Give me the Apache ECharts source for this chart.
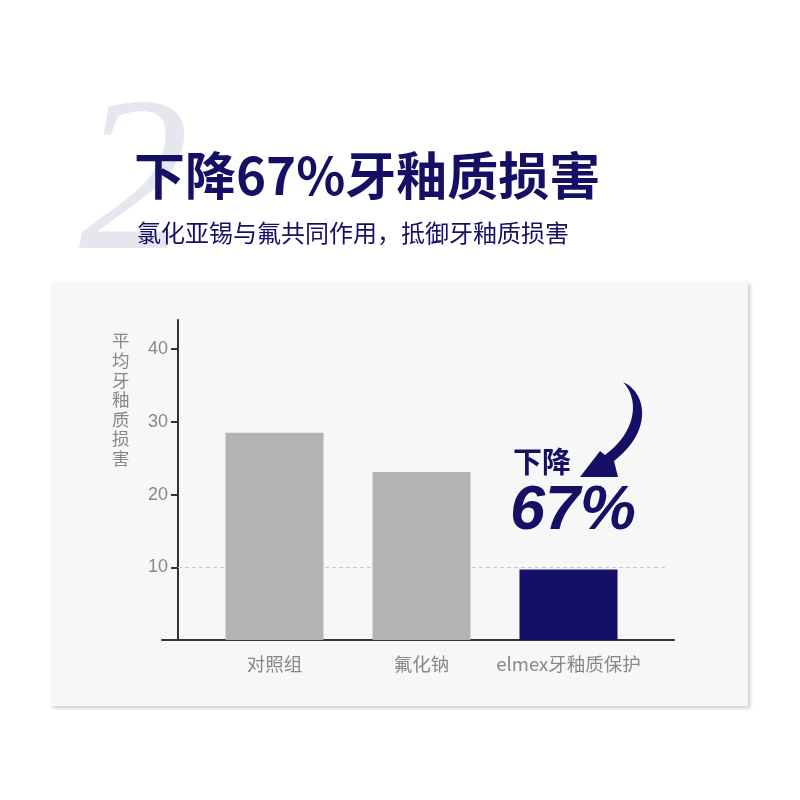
<!DOCTYPE html>
<html lang="zh">
<head>
<meta charset="UTF-8">
<title>下降67%牙釉质损害</title>
<script src="https://cdn.jsdelivr.net/npm/echarts@6/dist/echarts.min.js"></script>
<style>
  html, body { margin: 0; padding: 0; background: #fff; }
</style>
</head>
<body>
<div id="main" style="width: 800px;height:800px;"></div>
<script type="text/javascript">
// data
var categories = ['对照组', '氟化钠', 'elmex牙釉质保护'];
var damage = [28.5, 23.1, 9.7];
var yTicks = [10, 20, 30, 40];
var refLine = 10;

var navy = '#160f66';
var grey = '#b3b3b3';
var cjk = '"Noto Sans CJK SC", "Noto Sans", sans-serif';

var myChart = echarts.init(document.getElementById('main'));

var barData = damage.map(function (v, i) {
    return { value: v, itemStyle: { color: i === damage.length - 1 ? navy : grey } };
});

// curved arrow decoration: sample cubic curves into a polygon
function cubic(p0, p1, p2, p3, n) {
    var pts = [];
    for (var i = 0; i <= n; i++) {
        var t = i / n, u = 1 - t;
        pts.push([
            u*u*u*p0[0] + 3*u*u*t*p1[0] + 3*u*t*t*p2[0] + t*t*t*p3[0],
            u*u*u*p0[1] + 3*u*u*t*p1[1] + 3*u*t*t*p2[1] + t*t*t*p3[1]
        ]);
    }
    return pts;
}
var arrowPts = cubic([623, 382], [646, 392], [654, 430], [614, 461], 24)
    .concat([[618, 477], [580, 477], [600, 451]])
    .concat(cubic([605, 455], [636, 432], [640, 400], [623, 382], 24));

var gTop = 320, gBottom = 160;

var option = {
    animation: false,
    title: [
        { text: '2', left: 79, top: 80, padding: 0,
          textStyle: { fontSize: 220, fontFamily: '"Liberation Serif", serif', fontStyle: 'italic', fontWeight: 'normal', color: '#e6e6ef' } },
        { text: '下降67%牙釉质损害', left: 134, top: 150, padding: 0,
          textStyle: { fontSize: 51, fontFamily: cjk, fontWeight: 'bold', color: navy } },
        { text: '氯化亚锡与氟共同作用，抵御牙釉质损害', left: 137, top: 221, padding: 0,
          textStyle: { fontSize: 24, fontFamily: cjk, fontWeight: 'normal', color: navy } },
        { text: '平\n均\n牙\n釉\n质\n损\n害', left: 112, top: 331, padding: 0,
          textStyle: { fontSize: 17.5, lineHeight: 19.6, fontFamily: cjk, fontWeight: 'normal', color: '#888' } },
        { text: '下降', left: 513, top: 447, padding: 0,
          textStyle: { fontSize: 29, fontFamily: cjk, fontWeight: 'bold', color: navy } },
        { text: '67%', left: 510, top: 480, padding: 0,
          textStyle: { fontSize: 63, fontFamily: '"Liberation Sans", sans-serif', fontStyle: 'italic', fontWeight: 'bold', color: navy } }
    ],
    graphic: [
        { type: 'rect', z: -10, shape: { x: 51, y: 282, width: 697, height: 424 },
          style: { fill: '#f7f7f7', shadowBlur: 4, shadowColor: 'rgba(0,0,0,0.22)', shadowOffsetX: 2, shadowOffsetY: 2 } },
        { type: 'polygon', z: 10, shape: { points: arrowPts }, style: { fill: navy } }
    ],
    grid: [
        { left: 201, right: 158, top: gTop, bottom: gBottom },
        { left: 178, right: 132, top: gTop, bottom: gBottom },
        { left: 162, right: 126, top: gTop, bottom: gBottom }
    ],
    xAxis: [
        { type: 'category', gridIndex: 0, data: categories,
          axisLine: { show: false }, axisTick: { show: false },
          axisLabel: { interval: 0, color: '#888', fontSize: 18.5, fontFamily: cjk, margin: 15 } },
        { type: 'category', gridIndex: 1, data: [''], show: false },
        { type: 'category', gridIndex: 2, data: [''],
          axisLine: { show: true, lineStyle: { color: '#333', width: 2 } },
          axisTick: { show: false }, axisLabel: { show: false } }
    ],
    yAxis: [
        { type: 'value', gridIndex: 0, min: 0, max: 44, offset: 23,
          axisLine: { show: true, lineStyle: { color: '#333', width: 2 } },
          axisTick: { show: true, length: 7, customValues: yTicks, lineStyle: { color: '#333', width: 2 } },
          axisLabel: { customValues: yTicks, color: '#888', fontSize: 18, margin: 10, fontFamily: '"Liberation Sans", sans-serif' },
          splitLine: { show: false } },
        { type: 'value', gridIndex: 1, min: 0, max: 44, show: false, splitLine: { show: false } },
        { type: 'value', gridIndex: 2, min: 0, max: 44, show: false, splitLine: { show: false } }
    ],
    series: [
        {
            type: 'line', xAxisIndex: 1, yAxisIndex: 1, data: [], z: 1,
            markLine: {
                silent: true, symbol: 'none', z: 1,
                label: { show: false },
                lineStyle: { type: [4, 3], color: '#c8c8c8', width: 1 },
                data: [{ yAxis: refLine }]
            }
        },
        {
            type: 'bar', xAxisIndex: 0, yAxisIndex: 0, z: 3,
            barWidth: 98,
            data: barData
        }
    ]
};

myChart.setOption(option);
</script>
</body>
</html>
